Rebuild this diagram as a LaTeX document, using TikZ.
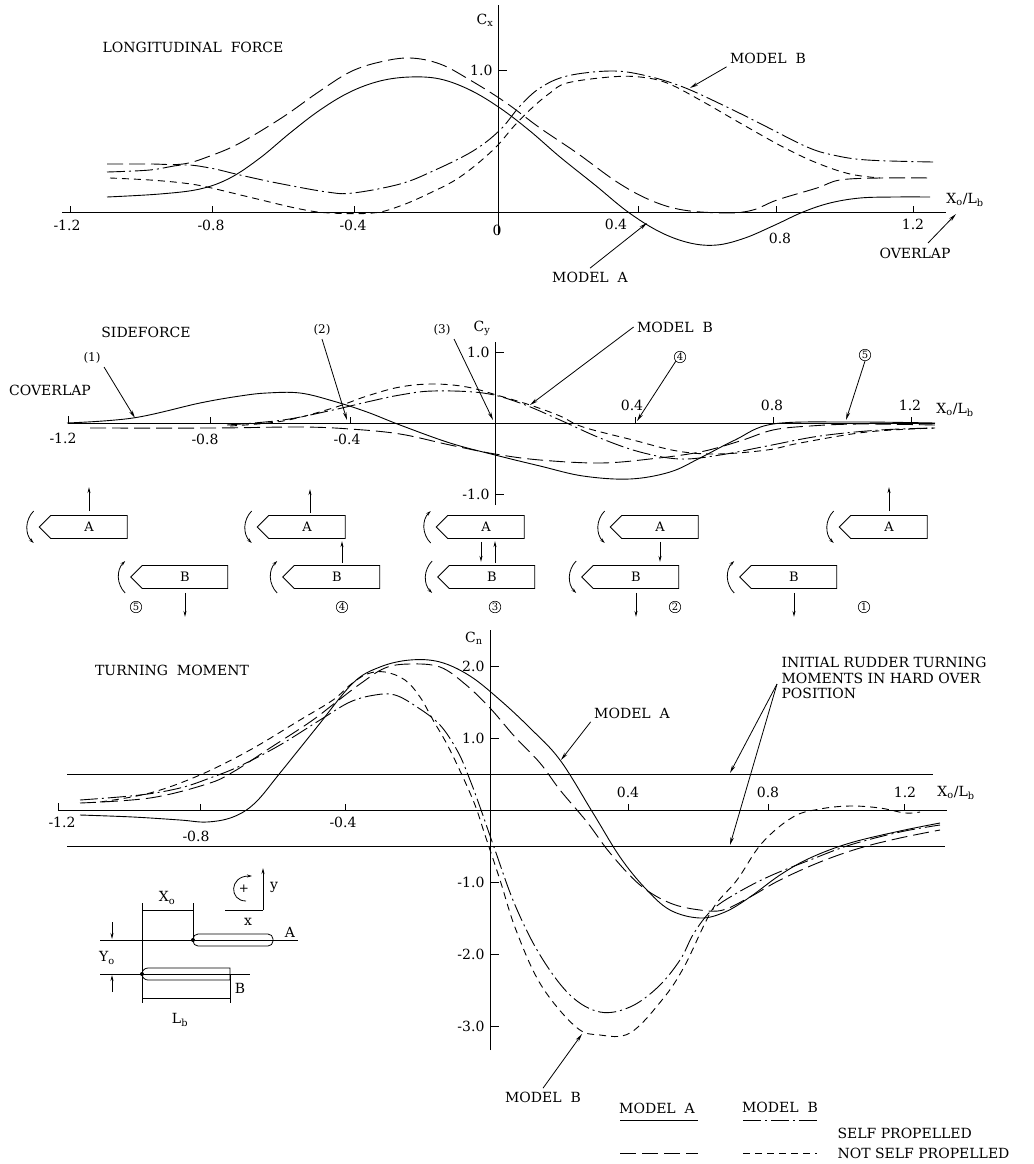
\documentclass[tikz,border=0pt]{standalone}
\usepackage{fontspec}
\setmainfont{DejaVu Serif}
\usetikzlibrary{shapes.symbols,arrows.meta,calc}
\begin{document}
\begin{tikzpicture}[x=1pt,y=-1pt,font=\fontsize{14}{15}\selectfont]
\tikzstyle{spA}=[line width=0.9pt]
\tikzstyle{nspA}=[line width=0.9pt,dash pattern=on 16pt off 6pt]
\tikzstyle{spB}=[line width=0.9pt,dash pattern=on 18pt off 4pt on 2pt off 4pt]
\tikzstyle{nspB}=[line width=0.9pt,dash pattern=on 7pt off 5pt]
\tikzstyle{axis}=[line width=0.8pt]
\tikzstyle{pointer}=[line width=0.8pt,-{Stealth[length=8pt,width=3.5pt]}]
\tikzstyle{force}=[line width=0.9pt,-{Stealth[length=6pt,width=3pt]}]
\tikzstyle{turn}=[line width=0.8pt,-{Stealth[length=5pt,width=3pt]}]
\tikzstyle{hullA}=[draw,signal,signal to=west,minimum width=88pt,minimum height=23pt,inner sep=0pt,line width=0.8pt,font=\fontsize{13}{14}\selectfont]
\tikzstyle{hullB}=[hullA,minimum width=97pt]
\tikzstyle{num}=[circle,draw,inner sep=0.6pt,line width=0.6pt,font=\fontsize{10}{11}\selectfont]
\tikzstyle{small}=[font=\fontsize{12}{13}\selectfont]
\useasboundingbox (0,0) rectangle (1033,1164);

% longitudinal force
\draw[axis] (62,212) -- (946,212);
\draw[axis] (498,235) -- (498,5);
\draw[axis] (498,70) -- (507,70);
\foreach \x in {70,212,354,638,776,913}
  \draw[axis] (\x,212) -- (\x,206);
\node (cx) at (485,20) {C\textsubscript{x}};
\node[anchor=east] (cxone) at (496,70) {1.0};
\node (cxtitle) at (193,47) {LONGITUDINAL\ \ FORCE};
\node (cxa) at (67,225) {-1.2};
\node (cxb) at (211,225) {-0.8};
\node (cxc) at (353,225) {-0.4};
\node (cxd) at (497,230) {0};
\node (cxe) at (616,224) {0.4};
\node (cxf) at (780,238) {0.8};
\node (cxg) at (913,224) {1.2};
\node (cxaxis) at (965,200) {X\textsubscript{o}/L\textsubscript{b}};
\draw[spA] plot[smooth,tension=0.6] coordinates {(107,197) (160,194) (200,189) (230,178) (260,158) (290,133) (320,110) (350,92) (380,81) (410,77) (440,79) (470,90) (500,108) (530,131) (560,157) (595,185) (628,212) (660,232) (690,243) (717,245) (745,238) (775,225) (803,212) (830,203) (860,198) (895,197) (930,197)};
\draw[nspA] plot[smooth,tension=0.6] coordinates {(107,164) (150,164) (183,164) (210,156) (240,143) (283,117) (317,93) (350,72) (380,62) (410,58) (440,64) (470,80) (505,102) (540,128) (577,153) (617,182) (650,200) (683,210) (727,213) (753,210) (777,200) (817,188) (840,180) (880,178) (933,178)};
\draw[spB] plot[smooth,tension=0.6] coordinates {(107,172) (150,170) (183,165) (210,168) (240,175) (277,183) (327,192) (353,193) (400,184) (433,171) (473,151) (500,130) (520,106) (540,88) (567,76) (610,71) (643,75) (683,87) (733,110) (767,127) (807,147) (833,155) (867,160) (933,162)};
\draw[nspB] plot[smooth,tension=0.6] coordinates {(110,178) (150,180) (183,183) (207,187) (253,198) (300,209) (330,213) (373,213) (400,206) (430,193) (460,177) (493,150) (515,125) (533,107) (550,93) (567,83) (610,77) (640,77) (667,83) (700,100) (740,123) (783,147) (817,163) (850,174) (880,178)};
\node (cxmodelB) at (768,58) {MODEL\ \ B};
\coordinate (cxBtip) at (690,88);
\draw[pointer] (cxmodelB.south west) -- (cxBtip);
\node (cxmodelA) at (590,277) {MODEL\ \ A};
\coordinate (cxAtip) at (647,223);
\draw[pointer] (cxmodelA.north) -- (cxAtip);
\node (cxoverlap) at (915,253) {OVERLAP};
\coordinate (cxOfoot) at (928,243);
\coordinate (cxOtip) at (956,214);
\draw[pointer] (cxOfoot) -- (cxOtip);

% sideforce
\draw[axis] (68,416) -- (68,423) -- (935,423);
\draw[axis] (495,505) -- (495,342);
\draw[axis] (495,352) -- (504,352);
\draw[axis] (495,494) -- (504,494);
\foreach \x in {210,350,635,773,911}
  \draw[axis] (\x,423) -- (\x,417);
\node (cy) at (482,328) {C\textsubscript{y}};
\node[anchor=east] (cyone) at (493,352) {1.0};
\node[anchor=east] (cymone) at (493,494) {-1.0};
\node (cytitle) at (146,332) {SIDEFORCE};
\node (coverlap) at (50,390) {COVERLAP};
\node (cya) at (63,438) {-1.2};
\node (cyb) at (205,439) {-0.8};
\node (cyc) at (347,439) {-0.4};
\node (cyd) at (632,405) {0.4};
\node (cye) at (772,405) {0.8};
\node (cyf) at (910,405) {1.2};
\node (cyaxis) at (955,410) {X\textsubscript{o}/L\textsubscript{b}};
\draw[spA] plot[smooth,tension=0.6] coordinates {(67,423) (133,418) (200,403) (240,396) (267,393) (300,393) (333,401) (367,412) (400,425) (450,443) (495,455) (540,466) (583,476) (630,479) (670,472) (700,458) (735,440) (773,424) (850,422) (935,423)};
\draw[nspA] plot[smooth,tension=0.6] coordinates {(90,428) (213,428) (300,427) (350,429) (400,434) (450,445) (495,454) (540,460) (600,463) (650,459) (700,452) (740,441) (773,430) (810,426) (860,424) (935,425)};
\draw[spB] plot[smooth,tension=0.6] coordinates {(227,425) (283,420) (333,410) (367,402) (400,395) (433,391) (483,393) (520,403) (560,420) (600,438) (640,452) (680,459) (720,455) (767,446) (820,436) (880,430) (935,428)};
\draw[nspB] plot[smooth,tension=0.6] coordinates {(230,426) (283,421) (333,408) (367,396) (400,387) (433,384) (467,387) (500,396) (530,405) (560,416) (583,427) (633,440) (677,451) (717,454) (767,450) (800,443) (867,432) (935,428)};
\node[small] (cyone) at (92,358) {(1)};
\coordinate (cyonetip) at (135,418);
\draw[pointer] (cyone.south east) -- (cyonetip);
\node[small] (cytwo) at (322,330) {(2)};
\coordinate (cytwotip) at (347,420);
\draw[pointer] (cytwo.south) -- (cytwotip);
\node[small] (cythree) at (442,330) {(3)};
\coordinate (cythreetip) at (493,420);
\draw[pointer] (cythree.south east) -- (cythreetip);
\node (cymodelB) at (675,327) {MODEL\ \ B};
\coordinate (cyBtip) at (530,405);
\draw[pointer] (cymodelB.west) -- (cyBtip);
\node[num] (cyfour) at (680,357) {4};
\coordinate (cyfourtip) at (637,421);
\draw[pointer] (cyfour.south west) -- (cyfourtip);
\node[num] (cyfive) at (865,355) {5};
\coordinate (cyfivetip) at (846,420);
\draw[pointer] (cyfive.south) -- (cyfivetip);

% ship positions
\node[hullA] (shipA5) at (89,527) {A};
\node[hullB] (shipB5) at (185,577) {B};
\node[hullA] (shipA4) at (307,527) {A};
\node[hullB] (shipB4) at (337,577) {B};
\node[hullA] (shipA3) at (486,527) {A};
\node[hullB] (shipB3) at (492,577) {B};
\node[hullA] (shipA2) at (660,527) {A};
\node[hullB] (shipB2) at (636,577) {B};
\node[hullA] (shipA1) at (889,527) {A};
\node[hullB] (shipB1) at (794,577) {B};
\foreach \s in {shipA5,shipA4,shipA2,shipA1,shipB3,shipB2}
  \draw[turn] ($(\s.west)+(-5,-16)$) to[bend right=45] ($(\s.west)+(-5,16)$);
\foreach \s in {shipA3,shipB5,shipB4,shipB1}
  \draw[turn] ($(\s.west)+(-5,16)$) to[bend left=45] ($(\s.west)+(-5,-16)$);
\draw[force] ($(shipA5.north)+(0,-4)$) -- ++(0,-24);
\draw[force] ($(shipA4.north)+(3,-2)$) -- ++(0,-24);
\draw[force] ($(shipA1.north)+(0,-4)$) -- ++(0,-24);
\draw[force] ($(shipA3.south)+(-5,3)$) -- ++(0,20);
\draw[force] ($(shipA2.south)+(0,3)$) -- ++(0,20);
\draw[force] ($(shipB4.north)+(5,-2)$) -- ++(0,-22);
\draw[force] ($(shipB3.north)+(3,-2)$) -- ++(0,-22);
\draw[force] ($(shipB5.south)+(0,4)$) -- ++(0,24);
\draw[force] ($(shipB2.south)+(0,4)$) -- ++(0,24);
\draw[force] ($(shipB1.south)+(0,4)$) -- ++(0,24);
\node[num] (posfive) at (136,607) {5};
\node[num] (posfour) at (342,607) {4};
\node[num] (posthree) at (495,607) {3};
\node[num] (postwo) at (675,607) {2};
\node[num] (posone) at (864,607) {1};

% turning moment
\draw[axis] (58,803) -- (58,810) -- (947,810);
\draw[axis] (67,774) -- (933,774);
\draw[axis] (67,846) -- (945,846);
\draw[axis] (490,1050) -- (490,630);
\foreach \y in {666,738,882,954,1026}
  \draw[axis] (490,\y) -- (499,\y);
\foreach \x in {200,345,628,768,904}
  \draw[axis] (\x,810) -- (\x,804);
\node (cn) at (474,638) {C\textsubscript{n}};
\node[anchor=east] (cntwo) at (488,666) {2.0};
\node[anchor=east] (cnone) at (488,738) {1.0};
\node[anchor=east] (cnmone) at (488,882) {-1.0};
\node[anchor=east] (cnmtwo) at (488,954) {-2.0};
\node[anchor=east] (cnmthree) at (488,1026) {-3.0};
\node (cntitle) at (172,670) {TURNING\ \ MOMENT};
\node (cna) at (62,822) {-1.2};
\node (cnb) at (196,836) {-0.8};
\node (cnc) at (343,822) {-0.4};
\node (cnd) at (628,792) {0.4};
\node (cne) at (768,792) {0.8};
\node (cnf) at (905,792) {1.2};
\node (cnaxis) at (956,793) {X\textsubscript{o}/L\textsubscript{b}};
\draw[spA] plot[smooth,tension=0.6] coordinates {(80,815) (133,817) (180,820) (207,822) (233,817) (255,803) (280,773) (317,727) (353,683) (380,667) (410,660) (440,662) (470,676) (500,700) (530,728) (560,760) (593,813) (620,857) (645,888) (670,910) (700,918) (725,912) (750,897) (780,875) (810,858) (850,843) (900,831) (940,823)};
\draw[nspA] plot[smooth,tension=0.6] coordinates {(80,803) (150,798) (207,784) (233,772) (270,748) (310,722) (335,703) (360,684) (385,668) (410,664) (440,667) (465,684) (490,708) (515,737) (540,763) (560,790) (587,822) (610,853) (640,885) (670,903) (700,910) (723,910) (750,897) (780,880) (820,862) (860,848) (900,838) (940,830)};
\draw[spB] plot[smooth,tension=0.6] coordinates {(80,800) (140,795) (180,788) (210,778) (240,766) (280,745) (320,720) (350,702) (375,695) (395,695) (417,707) (440,725) (458,752) (470,780) (480,807) (495,850) (515,905) (540,955) (570,995) (600,1012) (630,1007) (658,987) (680,960) (694,933) (712,910) (737,893) (770,876) (810,860) (850,845) (900,832) (940,825)};
\draw[nspB] plot[smooth,tension=0.6] coordinates {(100,802) (150,793) (200,775) (250,750) (300,720) (333,700) (350,685) (367,674) (385,672) (405,680) (420,697) (433,720) (450,750) (473,800) (485,835) (500,880) (516,930) (541,985) (576,1027) (600,1035) (630,1033) (662,1000) (684,967) (712,910) (737,880) (762,843) (793,817) (820,809) (850,806) (880,808) (905,813) (920,812)};
\node (cnmodelA) at (632,713) {MODEL\ \ A};
\coordinate (cnAtip) at (561,760);
\draw[pointer] (cnmodelA.south west) -- (cnAtip);
\node[anchor=north west,align=left,font=\fontsize{14}{15.5}\selectfont] (rudder) at (778,654) {INITIAL RUDDER TURNING\\MOMENTS IN HARD OVER\\POSITION};
\coordinate (rudderfoot) at (777,684);
\coordinate (rudderup) at (730,773);
\coordinate (rudderdown) at (730,845);
\draw[pointer] (rudderfoot) -- (rudderup);
\draw[pointer] (rudderfoot) -- (rudderdown);
\node (cnmodelB) at (543,1097) {MODEL\ \ B};
\coordinate (cnBtip) at (582,1034);
\draw[pointer] (cnmodelB.north) -- (cnBtip);

% sketch of the two hulls
\draw[axis] (100,940) -- (298,940);
\draw[axis] (100,974) -- (250,974);
\draw[line width=0.8pt,rounded corners=5pt] (193,934) rectangle (273,946);
\draw[line width=0.8pt] (230,968) [rounded corners=6pt] -- (142,968) -- (142,980) [sharp corners] -- (230,980) -- cycle;
\draw[nspB,line width=0.5pt] (160,974) -- (228,974);
\fill (193,940) circle (2pt);
\fill (142,974) circle (2pt);
\draw[axis] (142,903) -- (142,1003);
\draw[axis] (193,903) -- (193,940);
\draw[axis] (142,910) -- (193,910);
\draw[axis] (230,974) -- (230,1003);
\draw[axis] (142,998) -- (230,998);
\node (xo) at (167,898) {X\textsubscript{o}};
\node (yo) at (107,958) {Y\textsubscript{o}};
\node (lb) at (180,1020) {L\textsubscript{b}};
\node (hullAlabel) at (290,932) {A};
\node (hullBlabel) at (240,988) {B};
\coordinate (yotop) at (112,922);
\coordinate (yobot) at (112,992);
\draw[force] (yotop) -- (112,939);
\draw[force] (yobot) -- (112,975);
\coordinate (origin) at (263,910);
\draw[axis] (225,910) -- (origin);
\draw[force] (origin) -- (263,868);
\node (ylab) at (274,887) {y};
\node (xlab) at (248,922) {x};
\draw[turn] (246,901) .. controls (229,901) and (229,876) .. (252,876);
\node[small] (plus) at (244,889) {+};

% legend
\node (legA) at (657,1108) {MODEL\ \ A};
\node (legB) at (780,1107) {MODEL\ \ B};
\draw[spA] (620,1120) -- (698,1120);
\draw[spB] (743,1120) -- (817,1120);
\node[anchor=west] (legsp) at (834,1133) {SELF PROPELLED};
\draw[nspA] (620,1153) -- (698,1153);
\draw[nspB] (743,1153) -- (817,1153);
\node[anchor=west] (legnsp) at (834,1153) {NOT SELF PROPELLED};
\end{tikzpicture}
\end{document}
